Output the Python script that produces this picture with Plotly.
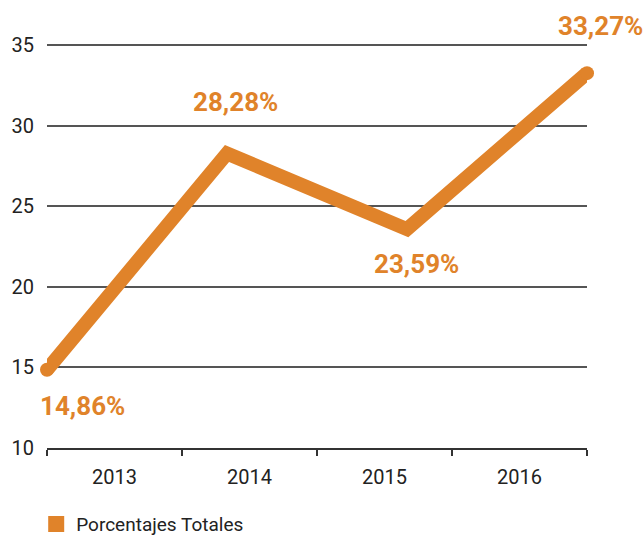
import plotly.graph_objects as go

years = ["2013", "2014", "2015", "2016"]
values = [14.86, 28.28, 23.59, 33.27]
labels = ["14,86%", "28,28%", "23,59%", "33,27%"]
series_name = "Porcentajes Totales"
y_ticks = [10, 15, 20, 25, 30, 35]

orange = "#E0832A"
font_main = "Roboto, Liberation Sans, sans-serif"

xpos = list(range(len(years)))

fig = go.Figure()
fig.add_trace(go.Scatter(
    x=xpos, y=values, mode="lines+markers",
    line=dict(color=orange, width=14),
    marker=dict(color=orange, size=[14, 0, 0, 14], opacity=1, line=dict(width=0)),
    showlegend=False, cliponaxis=False, hoverinfo="skip",
))
# invisible trace to carry the category axis
fig.add_trace(go.Scatter(
    x=years, y=[None] * len(years), xaxis="x2", mode="markers",
    showlegend=False, hoverinfo="skip",
))
# legend entry (square swatch)
fig.add_trace(go.Scatter(
    x=[None], y=[None], mode="markers", name=series_name,
    marker=dict(symbol="square", color=orange, size=17, line=dict(width=0)),
))

shifts = [(35, -36), (8, 52), (9, -35), (13, 47)]
for x, v, t, (dx, dy) in zip(xpos, values, labels, shifts):
    fig.add_annotation(
        x=x, y=v, text="<b>" + t + "</b>", showarrow=False,
        xshift=dx, yshift=dy,
        font=dict(family=font_main, size=26, color=orange),
    )

tick_font = dict(family=font_main, size=20, color="#222")

fig.update_layout(
    width=644, height=537,
    margin=dict(l=47, r=57, t=44, b=89, autoexpand=False),
    paper_bgcolor="white", plot_bgcolor="white",
    xaxis=dict(range=[0, 3], visible=False, showgrid=False, zeroline=False),
    xaxis2=dict(
        type="category", categoryarray=years, range=[-0.5, 3.5],
        overlaying="x", side="bottom", anchor="y", automargin=False,
        showgrid=False, zeroline=False,
        showline=True, linecolor="#333", linewidth=2,
        ticks="outside", tickson="boundaries", ticklen=6, tickwidth=2, tickcolor="#333",
        ticklabelstandoff=10,
        tickfont=tick_font,
    ),
    yaxis=dict(
        range=[10, 35.08], tickvals=y_ticks, showgrid=True, automargin=False,
        gridcolor="#555", gridwidth=1.5, zeroline=False, showline=False,
        ticks="", ticklabelstandoff=12,
        tickfont=tick_font,
    ),
    legend=dict(
        orientation="h", x=-0.02, xanchor="left",
        yref="container", y=0.024, yanchor="middle",
        font=dict(family=font_main, size=19, color="#222"),
        itemsizing="trace",
    ),
    showlegend=True,
)

fig.write_html(
    "out.html",
    config={"displayModeBar": False},
    post_script="document.body.style.margin='0';document.body.style.overflow='hidden';",
)
